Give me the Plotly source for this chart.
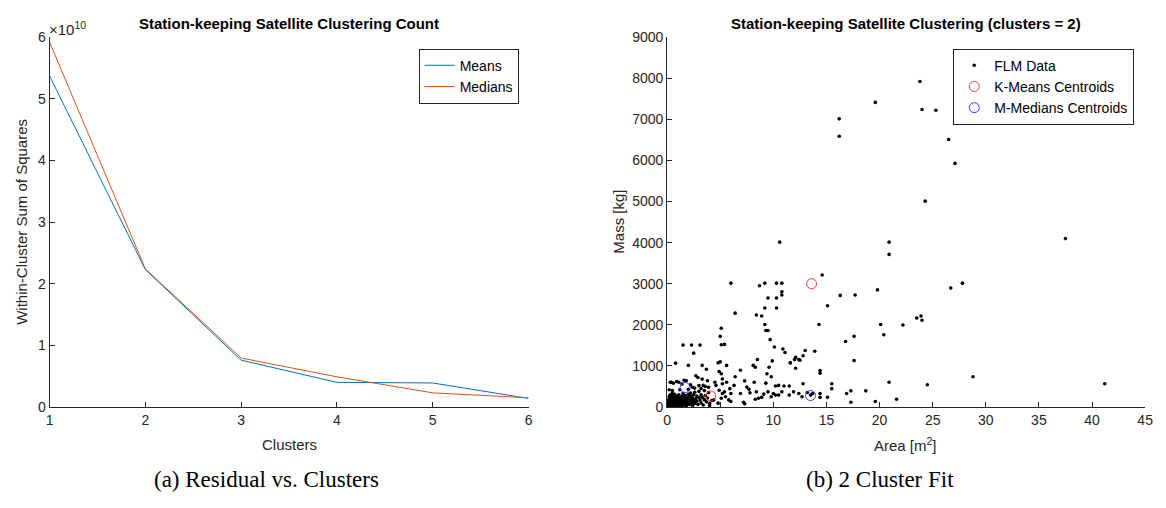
import plotly.graph_objects as go

# ---------------- data ----------------
clusters = [1, 2, 3, 4, 5, 6]
wcss_means = [5.37e10, 2.23e10, 0.76e10, 0.40e10, 0.39e10, 0.14e10]
wcss_medians = [5.92e10, 2.24e10, 0.795e10, 0.49e10, 0.23e10, 0.15e10]
ytick_vals_left = [0, 1e10, 2e10, 3e10, 4e10, 5e10, 6e10]
ytick_text_left = ["0", "1", "2", "3", "4", "5", "6"]

area_high = [23.8, 19.6, 24.0, 25.3, 16.2, 16.2, 26.5, 27.1, 24.3, 10.6, 37.5, 20.9, 20.9, 14.6,
             6.0, 9.2, 10.3, 10.8, 8.7, 27.8, 26.7, 19.8, 10.8, 10.8, 16.3, 17.7, 9.5, 10.3, 15.1,
             6.4, 9.2, 10.3, 8.4, 8.9, 23.5, 23.9, 24.0, 9.2, 14.3, 20.1, 22.2, 5.1, 9.3, 9.5, 20.4,
             5.0, 17.6, 9.7, 16.8, 1.5, 2.3, 3.1, 5.1, 5.4, 10.1, 10.9, 11.1, 2.5, 13.0, 13.9, 12.8,
             12.1, 12.0, 12.4, 12.5, 11.6, 8.5, 17.6, 9.9]
mass_high = [7920, 7410, 7237, 7221, 7010, 6586, 6507, 5926, 5008, 4011, 4097, 4011, 3713, 3210,
             3014, 3014, 3014, 3014, 2951, 3014, 2896, 2849, 2802, 2724, 2716, 2724, 2653, 2653, 2465,
             2284, 2410, 2410, 2237, 2213, 2166, 2213, 2111, 2009, 2009, 2009, 1994, 1915, 1860, 1860, 1758,
             1719, 1719, 1640, 1593, 1507, 1507, 1507, 1515, 1523, 1460, 1413, 1327, 1311, 1374, 1358, 1248,
             1209, 1154, 1154, 1140, 1075, 1154, 1130, 1122]

area_low = [0.8, 2.0, 3.3, 4.8, 5.0, 5.6, 8.1, 8.3, 11.6, 12.1, 9.6, 6.9, 3.7, 4.9, 14.4, 14.4, 5.1,
            9.4, 9.8, 28.8, 2.7, 6.4, 5.2, 4.5, 7.3, 8.2, 9.3, 10.5, 12.8, 15.5, 15.5, 20.9, 24.5, 41.2,
            0.4, 1.1, 3.4, 6.3, 7.5, 7.7, 10.2, 11.0, 11.5, 17.3, 18.7, 16.9, 8.4, 7.8, 9.5, 10.0, 10.8,
            11.9, 12.4, 13.2, 13.5, 14.4, 14.4, 15.1, 9.1, 8.9, 8.6, 8.3, 10.2, 10.5, 9.8, 6.9, 5.4, 6.0,
            17.3, 19.6, 21.6, 5.8, 7.2, 7.3, 5.1, 6.0, 4.8, 4.0, 11.5, 12.7, 13.7,
            4.6, 4.9, 5.2, 5.5, 4.4, 5.9, 5.6, 5.2]
mass_low = [1068, 1013, 1013, 1075, 1099, 1013, 1013, 966, 1075, 942, 966, 895, 918, 863, 887, 824, 809,
            809, 738, 738, 761, 738, 683, 604, 636, 604, 581, 526, 565, 565, 447, 604, 542, 565,
            604, 604, 526, 526, 487, 432, 510, 510, 510, 393, 393, 330, 369, 345, 369, 330, 369,
            369, 330, 353, 290, 330, 236, 236, 314, 236, 212, 188, 290, 290, 251, 330, 369, 330,
            118, 133, 188, 173, 118, 79, 212, 133, 94, 39, 290, 251, 330,
            526, 408, 330, 251, 173, 447, 604, 565]

area_dense = [0.1, 0.1, 0.1, 0.1, 0.2, 0.2, 0.2, 0.2, 0.2, 0.3, 0.3, 0.3, 0.3, 0.3, 0.3, 0.4, 0.4, 0.4,
              0.4, 0.5, 0.5, 0.5, 0.5, 0.5, 0.5, 0.6, 0.6, 0.6, 0.6, 0.7, 0.7, 0.7, 0.7, 0.7, 0.8, 0.8,
              0.8, 0.8, 0.9, 0.9, 0.9, 0.9, 1.0, 1.0, 1.0, 1.0, 1.1, 1.1, 1.1, 1.1, 1.2, 1.2, 1.2, 1.2,
              1.3, 1.3, 1.3, 1.4, 1.4, 1.4, 1.5, 1.5, 1.5, 1.6, 1.6, 1.6, 1.7, 1.7, 1.8, 1.8, 1.8, 1.9,
              1.9, 2.0, 2.0, 2.1, 2.1, 2.2, 2.2, 2.3, 2.3, 2.4, 2.4, 2.5, 2.5, 2.6, 2.6, 2.7, 2.8, 2.8,
              2.9, 3.0, 3.0, 3.1, 3.2, 3.2, 3.3, 3.4, 3.5, 3.5, 3.6, 3.7, 3.8, 3.9, 4.0, 4.2,
              0.2, 0.5, 1.2, 2.0, 2.6, 3.2, 3.9, 3.6, 3.0, 2.2, 1.4, 0.6, 0.3, 0.9, 1.8, 3.8, 3.3, 2.9,
              1.6, 2.4]
mass_dense = [20, 60, 110, 160, 30, 80, 130, 200, 260, 10, 50, 100, 150, 220, 300, 40, 90, 170,
              240, 20, 70, 120, 190, 280, 350, 40, 100, 150, 230, 10, 60, 130, 200, 310, 30, 90,
              160, 250, 50, 110, 180, 270, 20, 80, 140, 220, 60, 120, 190, 300, 30, 100, 170, 240,
              70, 150, 210, 40, 120, 260, 90, 180, 330, 50, 140, 220, 100, 280, 30, 170, 240, 80,
              200, 130, 310, 60, 250, 180, 340, 110, 270, 40, 220, 160, 300, 90, 360, 200, 140, 270,
              60, 230, 380, 170, 100, 300, 240, 50, 180, 400, 280, 130, 220, 350, 90, 160,
              420, 400, 420, 430, 460, 450, 480, 500, 520, 540, 560, 580, 600, 620, 640, 640, 680, 720,
              650, 480]

area_data = area_high + area_low + area_dense
mass_data = mass_high + mass_low + mass_dense

kmeans_area = [4.1, 13.6]
kmeans_mass = [270, 3000]
kmedians_area = [1.7, 13.5]
kmedians_mass = [475, 280]

# ---------------- styling ----------------
FONT = "Liberation Sans, Arial, sans-serif"
SERIF = "Liberation Serif, Times New Roman, serif"
AXC = "#262626"
W, H = 1166, 508

def px_x(p):
    return p / W

def px_y(p):
    return 1 - p / H

fig = go.Figure()

fig.add_trace(go.Scatter(x=clusters, y=wcss_means, mode="lines", name="Means",
                         line=dict(color="#0072BD", width=1), xaxis="x", yaxis="y", legend="legend"))
fig.add_trace(go.Scatter(x=clusters, y=wcss_medians, mode="lines", name="Medians",
                         line=dict(color="#D95319", width=1), xaxis="x", yaxis="y", legend="legend"))

fig.add_trace(go.Scatter(x=area_data, y=mass_data, mode="markers", name="FLM Data",
                         marker=dict(color="black", size=3.6), xaxis="x2", yaxis="y2", legend="legend2"))
fig.add_trace(go.Scatter(x=kmeans_area, y=kmeans_mass, mode="markers", name="K-Means Centroids",
                         marker=dict(symbol="circle-open", color="#FF3838", size=10, line=dict(width=1)),
                         xaxis="x2", yaxis="y2", legend="legend2"))
fig.add_trace(go.Scatter(x=kmedians_area, y=kmedians_mass, mode="markers", name="M-Medians Centroids",
                         marker=dict(symbol="circle-open", color="#3838FF", size=10, line=dict(width=1)),
                         xaxis="x2", yaxis="y2", legend="legend2"))

axis_common = dict(showline=True, linecolor=AXC, linewidth=1, ticks="inside", ticklen=5,
                   tickcolor=AXC, showgrid=False, zeroline=False, mirror=False,
                   tickfont=dict(family=FONT, size=14, color=AXC))

ydom = [px_y(412), px_y(30)]

fig.update_layout(
    width=W, height=H, margin=dict(l=0, r=0, t=0, b=0),
    paper_bgcolor="white", plot_bgcolor="white", showlegend=True,
    xaxis=dict(domain=[px_x(46), px_x(530)], range=[1, 6], tickvals=clusters, anchor="y", **axis_common),
    yaxis=dict(domain=ydom, range=[0, 6e10], tickvals=ytick_vals_left, ticktext=ytick_text_left,
               anchor="x", **axis_common),
    xaxis2=dict(domain=[px_x(670), px_x(1153)], range=[0, 45], dtick=5, anchor="y2", **axis_common),
    yaxis2=dict(domain=ydom, range=[0, 9000], dtick=1000, anchor="x2", **axis_common),
    legend=dict(x=px_x(520), y=px_y(42), xanchor="right", yanchor="top", bgcolor="white",
                bordercolor="#262626", borderwidth=1, font=dict(family=FONT, size=14, color="black"),
                tracegroupgap=0, itemwidth=30),
    legend2=dict(x=px_x(1142), y=px_y(42), xanchor="right", yanchor="top", bgcolor="white",
                 bordercolor="#262626", borderwidth=1, font=dict(family=FONT, size=14, color="black"),
                 tracegroupgap=0, itemwidth=30),
)

ann = []
def add_text(text, x, y, size=15, color=AXC, bold=False, angle=0, family=FONT, xanchor="center"):
    t = f"<b>{text}</b>" if bold else text
    ann.append(dict(text=t, x=px_x(x), y=px_y(y), xref="paper", yref="paper", showarrow=False,
                    font=dict(family=family, size=size, color=color), textangle=angle,
                    xanchor=xanchor, yanchor="middle"))

add_text("Station-keeping Satellite Clustering Count", 288, 16, size=15, color="black", bold=True)
add_text("Station-keeping Satellite Clustering (clusters = 2)", 911, 16, size=15, color="black", bold=True)
add_text("×10<sup>10</sup>", 43, 21, size=15, xanchor="left")
add_text("Within-Cluster Sum of Squares", 17, 221, angle=-90)
add_text("Mass [kg]", 620, 221, angle=-90)
add_text("Clusters", 288, 451)
add_text("Area [m<sup>2</sup>]", 911, 451)
add_text("(a) Residual vs. Clusters", 265, 487, size=23, color="black", family=SERIF)
add_text("(b) 2 Cluster Fit", 885, 487, size=23, color="black", family=SERIF)

fig.update_layout(annotations=ann)

fig.write_html("out.html")
